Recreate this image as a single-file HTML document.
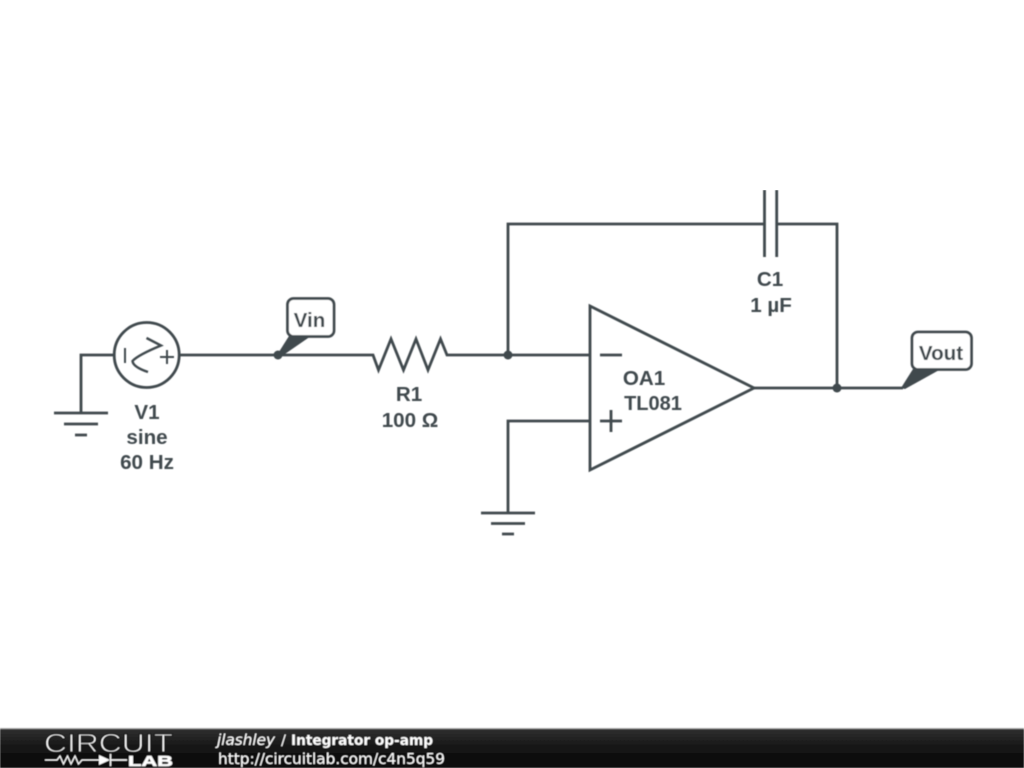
<!DOCTYPE html>
<html>
<head>
<meta charset="utf-8">
<style>
html,body{margin:0;padding:0;background:#fff;width:1024px;height:768px;overflow:hidden}
svg{display:block}
.w{fill:none;stroke:#40484d;stroke-width:2.800;stroke-linejoin:miter}
.l{font-family:"Liberation Sans",sans-serif;font-weight:bold;font-size:20.600px;fill:#40484d;text-anchor:middle}
.f{font-family:"DejaVu Sans",sans-serif;fill:#fff}
</style>
</head>
<body>
<svg width="1024" height="768" viewBox="0 0 1024 768" xmlns="http://www.w3.org/2000/svg">
<defs>
<linearGradient id="bar" x1="0" y1="0" x2="0" y2="1">
<stop offset="0" stop-color="#303030"/><stop offset="0.5" stop-color="#141414"/><stop offset="1" stop-color="#0a0a0a"/>
</linearGradient>
<filter id="soft" x="0" y="0" width="100%" height="100%"><feGaussianBlur stdDeviation="0.400"/></filter>
</defs>
<rect width="1024" height="768" fill="#fff"/>

<g filter="url(#soft)">
<!-- V1 and ground -->
<path class="w" d="M113 355H81V413"/>
<path class="w" d="M54 413H108M64 424H98M75 435H87"/>
<circle class="w" cx="146.700" cy="355" r="32.500"/>
<path class="w" style="stroke-width:2" d="M125 348V363"/>
<path class="w" style="stroke-width:2" d="M160 357H174M167 350V364"/>
<path class="w" style="stroke-width:2.400" d="M146.500 338L161 345.500Q138 355 132.500 361Q133 367 148 372"/>

<!-- main wires -->
<path class="w" d="M180 355H373L378.500 370L391 339L403.500 370L416 339L428 370L440.500 339L447 355H590"/>
<path class="w" d="M508 355V224H764.500M776.700 224H837V388M754 388H903"/>
<circle cx="278" cy="355" r="4.500" fill="#40484d"/>
<circle cx="508" cy="355" r="4.500" fill="#40484d"/>
<circle cx="837" cy="388" r="4.500" fill="#40484d"/>

<!-- capacitor -->
<path class="w" d="M764.500 190V257M776.700 190V257"/>

<!-- op-amp -->
<polygon class="w" points="590,306 754,388 590,470"/>
<path class="w" d="M600 355H622M600 421H622M611 410V432"/>
<path class="w" d="M590 421H508V513"/>
<path class="w" d="M481 513H535M491 523.500H525M502 534H514"/>

<!-- Vin flag -->
<polygon points="277,355 289,336 311,336 282,356" fill="#40484d"/>
<rect class="w" x="287.500" y="298.500" width="46.500" height="38" rx="6" style="fill:#fff"/>
<text class="l" x="309.500" y="327">Vin</text>

<!-- Vout flag -->
<polygon points="901,388 913,369 941,369 905,389" fill="#40484d"/>
<rect class="w" x="912" y="332" width="59.500" height="37.500" rx="6" style="fill:#fff"/>
<text class="l" x="941" y="360">Vout</text>

<!-- labels -->
<text class="l" x="147" y="419">V1</text>
<text class="l" x="147" y="444">sine</text>
<text class="l" x="147" y="469">60 Hz</text>
<text class="l" x="409" y="401">R1</text>
<text class="l" x="410" y="427">100 Ω</text>
<text class="l" x="770" y="286">C1</text>
<text class="l" x="771" y="312">1 µF</text>
<text class="l" x="644" y="385">OA1</text>
<text class="l" x="653" y="410" style="font-size:20px">TL081</text>

<!-- footer -->
<rect x="0" y="729" width="1024" height="39" fill="url(#bar)"/>
<rect x="0" y="728" width="1024" height="1" fill="#aaa"/>
<text x="44" y="752" font-family="Liberation Sans, sans-serif" font-size="26" fill="#fff" stroke="#1c1c1c" stroke-width="1.200" textLength="129" lengthAdjust="spacingAndGlyphs">CIRCUIT</text>
<path d="M45 760H57L60 756L63.500 764L67.500 756L71 764L75 756L78.500 764L82 760H99" fill="none" stroke="#fff" stroke-width="1.200"/>
<polygon points="99,755 99,765 110,760" fill="#fff"/>
<path d="M110.500 754V766M110.500 760H127" fill="none" stroke="#fff" stroke-width="1.500"/>
<text x="128" y="766" font-family="Liberation Sans, sans-serif" font-weight="bold" font-size="15" fill="#fff" stroke="#fff" stroke-width="0.500" textLength="45" lengthAdjust="spacingAndGlyphs">LAB</text>
<text class="f" x="217" y="745" font-size="15" font-style="italic" textLength="58" lengthAdjust="spacingAndGlyphs">jlashley</text>
<text class="f" x="281" y="745" font-size="14.500">/</text>
<text class="f" x="291" y="745" font-size="14" font-weight="bold" textLength="142" lengthAdjust="spacingAndGlyphs">Integrator op-amp</text>
<text class="f" x="218" y="764" font-size="15.300" textLength="227" lengthAdjust="spacingAndGlyphs">http://circuitlab.com/c4n5q59</text>
</g>
</svg>
</body>
</html>
